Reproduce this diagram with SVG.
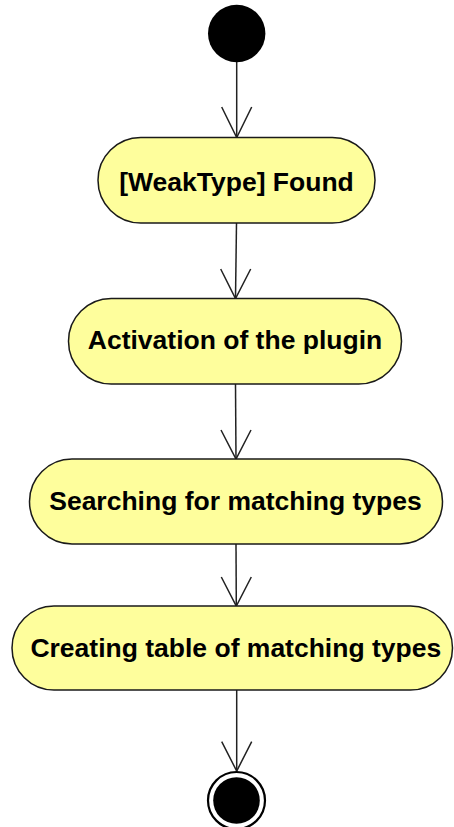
<svg xmlns="http://www.w3.org/2000/svg" width="454" height="827" viewBox="0 0 454 827">
  <style>
    .action { fill: #FEFE9C; stroke: #1a1a1a; stroke-width: 1.5; }
    .label { font-family: "Liberation Sans", Arial, sans-serif; font-weight: bold; font-size: 26.5px; fill: #000; text-anchor: middle; }
    .flow { fill: none; stroke: #222; stroke-width: 1.5; }
  </style>
  <rect width="454" height="827" fill="#ffffff"/>

  <g id="connectors">
    <path class="flow" d="M236.7 62 L236.7 137.5"/>
    <path class="flow" d="M221.7 107 L236.7 137.5 L251.7 107"/>

    <path class="flow" d="M236.5 223 L235.5 298.5"/>
    <path class="flow" d="M220.7 269 L235.5 298.5 L250.7 269"/>

    <path class="flow" d="M235.5 384 L236 459"/>
    <path class="flow" d="M221 430 L236 459 L251 430"/>

    <path class="flow" d="M236 544 L236.3 606"/>
    <path class="flow" d="M221.3 577 L236.3 606 L251.3 577"/>

    <path class="flow" d="M236.7 690 L236.7 771"/>
    <path class="flow" d="M221.7 741.7 L236.7 771 L251.7 741.7"/>
  </g>

  <g id="start">
    <circle cx="236.7" cy="33.5" r="28.7" fill="#000"/>
  </g>

  <g id="weaktype-found">
    <rect class="action" x="98" y="137.5" width="277" height="85.5" rx="42.75" ry="42.75"/>
    <text class="label" x="236.5" y="191">[WeakType] Found</text>
  </g>

  <g id="activation">
    <rect class="action" x="68.5" y="298.5" width="333" height="85.5" rx="42.75" ry="42.75"/>
    <text class="label" x="235" y="349">Activation of the plugin</text>
  </g>

  <g id="searching">
    <rect class="action" x="29.5" y="459" width="413" height="85" rx="42.5" ry="42.5"/>
    <text class="label" x="235.5" y="510">Searching for matching types</text>
  </g>

  <g id="creating-table">
    <rect class="action" x="12" y="606" width="440.5" height="84" rx="42" ry="42"/>
    <text class="label" x="235.8" y="657">Creating table of matching types</text>
  </g>

  <g id="end">
    <circle cx="236.5" cy="800.5" r="28.5" fill="#fff" stroke="#000" stroke-width="2.2"/>
    <circle cx="236.5" cy="800.5" r="23.3" fill="#000"/>
  </g>
</svg>
